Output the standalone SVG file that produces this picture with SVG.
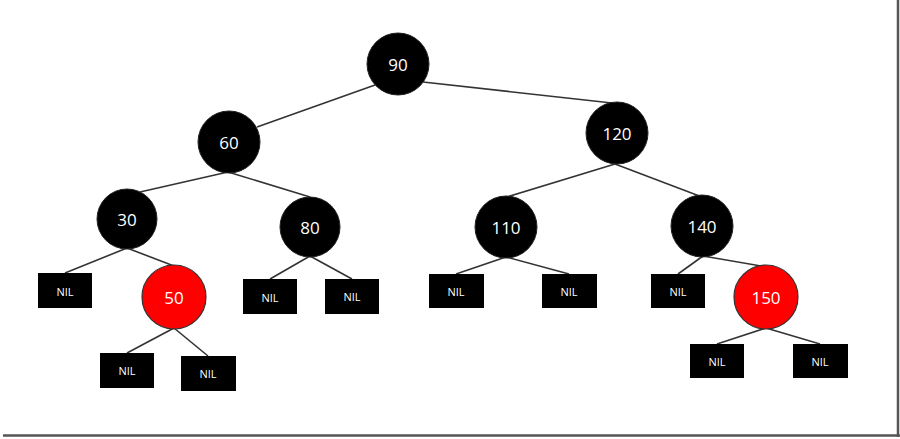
<svg xmlns="http://www.w3.org/2000/svg" width="900" height="439" viewBox="0 0 900 439">
<style>
.edge{stroke:#333;stroke-width:1.6;fill:none}
.blk{fill:#000;stroke:#222;stroke-width:1}
.red{fill:#ff0000;stroke:#333;stroke-width:1.2}
.nil{fill:#000}
.t{font-family:"Open Sans","DejaVu Sans",sans-serif;fill:#fff;text-anchor:middle;dominant-baseline:central}
.num{font-size:17px}
.nt{font-size:11px}
</style>
<rect width="900" height="439" fill="#fff"/>
<line x1="898" y1="0" x2="898" y2="437" stroke="#555" stroke-width="2.5"/>
<line x1="3" y1="435.5" x2="900" y2="435.5" stroke="#555" stroke-width="2.5"/>
<g id="edges">
<line class="edge" x1="375" y1="85" x2="257" y2="127"/>
<line class="edge" x1="423" y1="82" x2="612" y2="103"/>
<line class="edge" x1="228" y1="172" x2="140" y2="192"/>
<line class="edge" x1="228" y1="172" x2="310" y2="197"/>
<line class="edge" x1="615" y1="164" x2="507" y2="197"/>
<line class="edge" x1="615" y1="164" x2="702" y2="197"/>
<line class="edge" x1="127" y1="248" x2="65" y2="273"/>
<line class="edge" x1="127" y1="248" x2="174" y2="266"/>
<line class="edge" x1="310" y1="256" x2="270" y2="279"/>
<line class="edge" x1="310" y1="256" x2="352" y2="279"/>
<line class="edge" x1="174" y1="328" x2="127" y2="353"/>
<line class="edge" x1="174" y1="328" x2="208" y2="356"/>
<line class="edge" x1="506" y1="257" x2="456" y2="274"/>
<line class="edge" x1="506" y1="257" x2="569" y2="274"/>
<line class="edge" x1="703" y1="256" x2="678" y2="274"/>
<line class="edge" x1="703" y1="256" x2="767" y2="267"/>
<line class="edge" x1="766" y1="328" x2="717" y2="344"/>
<line class="edge" x1="766" y1="328" x2="820" y2="344"/>
</g>
<g id="n90"><circle class="blk" cx="398" cy="64" r="31"/><text class="t num" x="398" y="64">90</text></g>
<g id="n60"><circle class="blk" cx="229" cy="142" r="31"/><text class="t num" x="229" y="142">60</text></g>
<g id="n120"><circle class="blk" cx="617" cy="133" r="31"/><text class="t num" x="617" y="133">120</text></g>
<g id="n30"><circle class="blk" cx="127" cy="219" r="30"/><text class="t num" x="127" y="219">30</text></g>
<g id="n80"><circle class="blk" cx="310" cy="227" r="30"/><text class="t num" x="310" y="227">80</text></g>
<g id="n110"><circle class="blk" cx="506" cy="227" r="31"/><text class="t num" x="506" y="227">110</text></g>
<g id="n140"><circle class="blk" cx="702" cy="226" r="31"/><text class="t num" x="702" y="226">140</text></g>
<g id="n50"><circle class="red" cx="174" cy="297" r="32"/><text class="t num" x="174" y="297">50</text></g>
<g id="n150"><circle class="red" cx="766" cy="297" r="32"/><text class="t num" x="766" y="297">150</text></g>
<g id="nil1"><rect class="nil" x="38" y="273" width="54" height="35"/><text class="t nt" x="65" y="291">NIL</text></g>
<g id="nil2"><rect class="nil" x="100" y="353" width="54" height="35"/><text class="t nt" x="127" y="370">NIL</text></g>
<g id="nil3"><rect class="nil" x="181" y="356" width="55" height="35"/><text class="t nt" x="208" y="373">NIL</text></g>
<g id="nil4"><rect class="nil" x="243" y="279" width="54" height="35"/><text class="t nt" x="270" y="297">NIL</text></g>
<g id="nil5"><rect class="nil" x="325" y="279" width="54" height="35"/><text class="t nt" x="352" y="296">NIL</text></g>
<g id="nil6"><rect class="nil" x="429" y="274" width="55" height="34"/><text class="t nt" x="456" y="291">NIL</text></g>
<g id="nil7"><rect class="nil" x="542" y="274" width="55" height="34"/><text class="t nt" x="569" y="291">NIL</text></g>
<g id="nil8"><rect class="nil" x="651" y="274" width="54" height="34"/><text class="t nt" x="678" y="291">NIL</text></g>
<g id="nil9"><rect class="nil" x="690" y="344" width="54" height="34"/><text class="t nt" x="717" y="361">NIL</text></g>
<g id="nil10"><rect class="nil" x="793" y="344" width="55" height="34"/><text class="t nt" x="820" y="361">NIL</text></g>
</svg>
